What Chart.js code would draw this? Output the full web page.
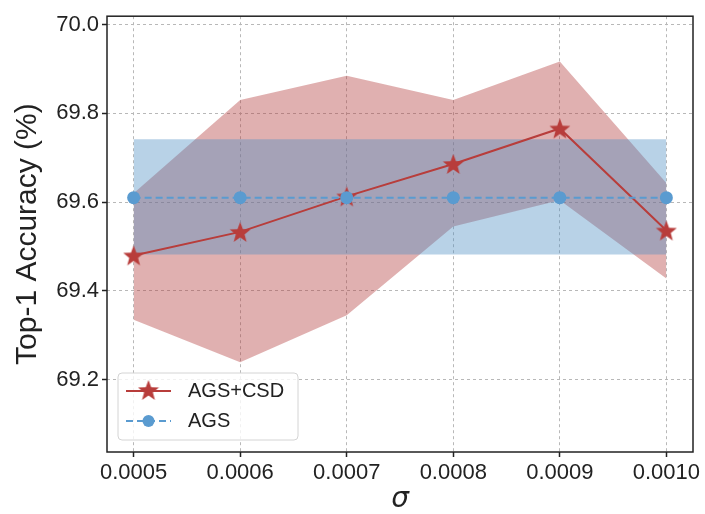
<!DOCTYPE html>
<html>
<head>
<meta charset="utf-8">
<script src="https://cdn.jsdelivr.net/npm/chart.js@4/dist/chart.umd.min.js"></script>
<style>
  html, body { margin: 0; padding: 0; background: #fff; }
  #wrap { width: 705px; height: 514px; }
</style>
</head>
<body>
<div id="wrap"><canvas id="chart" width="705" height="514"></canvas></div>
<script>
// sigma 값에 따른 Top-1 정확도
const sigma = [0.0005, 0.0006, 0.0007, 0.0008, 0.0009, 0.0010];
const agsCsd = [69.48, 69.533, 69.613, 69.686, 69.766, 69.536];
const agsCsdUpper = [69.62, 69.83, 69.885, 69.83, 69.917, 69.643];
const agsCsdLower = [69.335, 69.239, 69.345, 69.545, 69.604, 69.428];
const ags = [69.61, 69.61, 69.61, 69.61, 69.61, 69.61];
const agsUpper = [69.742, 69.742, 69.742, 69.742, 69.742, 69.742];
const agsLower = [69.482, 69.482, 69.482, 69.482, 69.482, 69.482];
const xTicks = [0.0005, 0.0006, 0.0007, 0.0008, 0.0009, 0.0010];
const yTicks = [69.2, 69.4, 69.6, 69.8, 70.0];

const RED = '#b83d3b';
const BLUE = '#5a9bd0';
const FONT = "'Liberation Sans', Arial, sans-serif";

Chart.defaults.font.family = FONT;
Chart.defaults.color = '#222';

// 별 모양 마커 (채워진 5각 별)
function makeStar(size, color) {
  const c = document.createElement('canvas');
  c.width = size; c.height = size;
  const g = c.getContext('2d');
  const cx = size / 2, cy = size / 2 + 1;
  const outer = size / 2, inner = outer * 0.42;
  g.beginPath();
  for (let i = 0; i < 10; i++) {
    const r = i % 2 === 0 ? outer : inner;
    const a = -Math.PI / 2 + i * Math.PI / 5;
    const px = cx + r * Math.cos(a), py = cy + r * Math.sin(a);
    if (i === 0) g.moveTo(px, py); else g.lineTo(px, py);
  }
  g.closePath();
  g.fillStyle = color;
  g.fill();
  return c;
}
const starImg = makeStar(22, RED);

const pts = arr => sigma.map((x, i) => ({ x: x, y: arr[i] }));

// 플롯 테두리 + 그래프 안쪽 범례
const frameLegend = {
  id: 'frameLegend',
  afterDraw(chart) {
    const { ctx, chartArea: a } = chart;
    ctx.save();
    ctx.strokeStyle = '#222';
    ctx.lineWidth = 1.5;
    ctx.strokeRect(a.left, a.top, a.right - a.left, a.bottom - a.top);

    const bx = a.left + 11, by = a.bottom - 79, bw = 180, bh = 67;
    ctx.beginPath();
    ctx.roundRect(bx, by, bw, bh, 4);
    ctx.fillStyle = 'rgba(255,255,255,0.8)';
    ctx.fill();
    ctx.strokeStyle = '#d4d4d4';
    ctx.lineWidth = 1;
    ctx.stroke();

    const x0 = bx + 8, x1 = bx + 53, xm = (x0 + x1) / 2;
    const r1 = by + 18, r2 = by + 48;
    ctx.strokeStyle = RED;
    ctx.lineWidth = 2;
    ctx.beginPath(); ctx.moveTo(x0, r1); ctx.lineTo(x1, r1); ctx.stroke();
    ctx.drawImage(starImg, xm - 11, r1 - 12);

    ctx.strokeStyle = BLUE;
    ctx.setLineDash([7, 4]);
    ctx.beginPath(); ctx.moveTo(x0, r2); ctx.lineTo(x1, r2); ctx.stroke();
    ctx.setLineDash([]);
    ctx.fillStyle = BLUE;
    ctx.beginPath(); ctx.arc(xm, r2, 6, 0, Math.PI * 2); ctx.fill();

    ctx.fillStyle = '#222';
    ctx.font = '20px ' + FONT;
    ctx.textBaseline = 'middle';
    ctx.fillText('AGS+CSD', bx + 70, r1);
    ctx.fillText('AGS', bx + 70, r2);
    ctx.restore();
  }
};

new Chart(document.getElementById('chart'), {
  type: 'line',
  data: {
    datasets: [
      { data: pts(agsCsd), borderColor: RED, borderWidth: 2, pointStyle: starImg,
        pointRadius: 10, fill: false, order: 1 },
      { data: pts(ags), borderColor: BLUE, borderWidth: 2, borderDash: [7, 4],
        pointBackgroundColor: BLUE, pointBorderWidth: 0, pointRadius: 6.5, fill: false, order: 0 },
      { data: pts(agsUpper), borderWidth: 0, pointRadius: 0, fill: '+1',
        backgroundColor: 'rgba(77,142,194,0.4)', order: 2 },
      { data: pts(agsLower), borderWidth: 0, pointRadius: 0, fill: false, order: 2 },
      { data: pts(agsCsdUpper), borderWidth: 0, pointRadius: 0, fill: '+1',
        backgroundColor: 'rgba(178,58,58,0.4)', order: 3 },
      { data: pts(agsCsdLower), borderWidth: 0, pointRadius: 0, fill: false, order: 3 }
    ]
  },
  options: {
    responsive: false,
    animation: false,
    layout: { padding: { top: 15, right: 12, left: 0, bottom: 0 } },
    plugins: { legend: { display: false }, tooltip: { enabled: false } },
    scales: {
      x: {
        type: 'linear',
        min: 0.000475,
        max: 0.001025,
        afterBuildTicks: s => { s.ticks = xTicks.map(v => ({ value: v })); },
        afterFit: s => { s.height = 62; },
        ticks: { font: { size: 22 }, color: '#222', padding: 3,
          callback: v => v.toFixed(4), maxRotation: 0, autoSkip: false },
        grid: { color: '#b8b8b8', lineWidth: 1, tickLength: 5, tickColor: '#222', tickWidth: 1.5 },
        border: { display: false, dash: [3, 3] },
        title: { display: true, text: 'σ', padding: { top: 0, bottom: 0 },
          font: { family: "'DejaVu Sans', sans-serif", size: 28, style: 'italic', lineHeight: 1 }, color: '#222' }
      },
      y: {
        min: 69.037,
        max: 70.019,
        afterBuildTicks: s => { s.ticks = yTicks.map(v => ({ value: v })); },
        afterFit: s => { s.width = 107; },
        ticks: { font: { size: 22 }, color: '#222', padding: 3, callback: v => v.toFixed(1) },
        grid: { color: '#b8b8b8', lineWidth: 1, tickLength: 5, tickColor: '#222', tickWidth: 1.5 },
        border: { display: false, dash: [3, 3] },
        title: { display: true, text: 'Top-1 Accuracy (%)', padding: { top: 11, bottom: 0 },
          font: { size: 30, lineHeight: 1.1 }, color: '#222' }
      }
    }
  },
  plugins: [frameLegend]
});
</script>
</body>
</html>
